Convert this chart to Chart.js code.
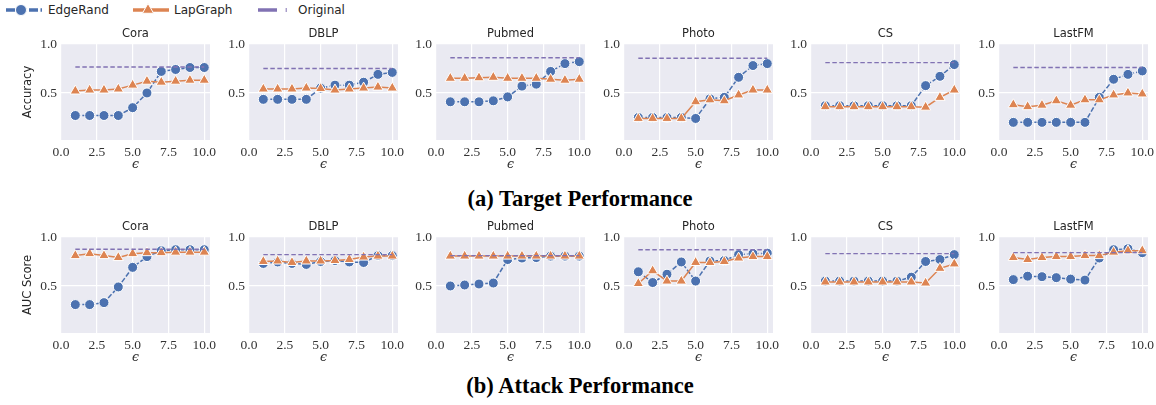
<!DOCTYPE html>
<html>
<head>
<meta charset="UTF-8" />
<title>Target and Attack Performance</title>
<script src="https://cdn.jsdelivr.net/npm/chart.js"></script>
<style>
  body { margin: 0; background: #fff; width: 1156px; height: 405px; position: relative; overflow: hidden; }
  canvas.panel { position: absolute; }
  .caption { position: absolute; left: 4px; width: 1152px; text-align: center; font: bold 22.5px "Liberation Serif", serif; color: #000; line-height: 24px; }
  .legend span { position: absolute; top: 3px; font: 12px "DejaVu Sans", sans-serif; color: #262626; line-height: 14px; }
  .legend svg { position: absolute; top: 0; }
</style>
</head>
<body>
  <!-- Legend -->
  <div class="legend">
    <svg style="left:4px" width="40" height="20">
      <line x1="2" y1="10" x2="38" y2="10" stroke="#4C72B0" stroke-width="3.5" stroke-dasharray="9,2.5" />
      <circle cx="17" cy="10" r="5.5" fill="#4C72B0" stroke="#fff" stroke-width="1" />
    </svg>
    <span style="left:48px">EdgeRand</span>
    <svg style="left:131px" width="40" height="20">
      <line x1="2" y1="10" x2="38" y2="10" stroke="#DD8452" stroke-width="3.5" />
      <polygon points="17,3.5 22.6,13.25 11.4,13.25" fill="#DD8452" stroke="#fff" stroke-width="1" />
    </svg>
    <span style="left:174px">LapGraph</span>
    <svg style="left:256px" width="40" height="20">
      <line x1="2" y1="10" x2="21" y2="10" stroke="#8172B3" stroke-width="3.5" />
      <line x1="30.2" y1="8" x2="30.2" y2="12" stroke="#8172B3" stroke-width="1" />
    </svg>
    <span style="left:298px">Original</span>
  </div>

  <div class="caption" style="top:187px">(a) Target Performance</div>
  <div class="caption" style="top:374px">(b) Attack Performance</div>

  <script>
    // --- Data ---
    const datasetNames = ['Cora', 'DBLP', 'Pubmed', 'Photo', 'CS', 'LastFM'];
    const epsilons = [1, 2, 3, 4, 5, 6, 7, 8, 9, 10];
    const xTicks = [0, 2.5, 5, 7.5, 10];
    const yTicks = [0.5, 1.0];

    // (a) Target performance (accuracy)
    const targetEdgeRand = [
      [0.27, 0.27, 0.27, 0.27, 0.35, 0.50, 0.72, 0.74, 0.76, 0.76],
      [0.435, 0.435, 0.435, 0.435, 0.55, 0.58, 0.58, 0.61, 0.69, 0.71],
      [0.41, 0.41, 0.41, 0.42, 0.46, 0.57, 0.59, 0.72, 0.80, 0.82],
      [0.25, 0.25, 0.25, 0.25, 0.24, 0.44, 0.455, 0.66, 0.78, 0.80],
      [0.37, 0.37, 0.37, 0.37, 0.37, 0.37, 0.37, 0.575, 0.67, 0.79],
      [0.20, 0.20, 0.20, 0.20, 0.20, 0.20, 0.455, 0.64, 0.69, 0.725]
    ];
    const targetLapGraph = [
      [0.52, 0.53, 0.53, 0.54, 0.58, 0.62, 0.61, 0.62, 0.63, 0.63],
      [0.54, 0.54, 0.54, 0.55, 0.545, 0.53, 0.54, 0.55, 0.56, 0.55],
      [0.65, 0.65, 0.655, 0.66, 0.65, 0.65, 0.65, 0.64, 0.63, 0.64],
      [0.24, 0.24, 0.24, 0.24, 0.41, 0.43, 0.42, 0.48, 0.53, 0.53],
      [0.36, 0.36, 0.36, 0.36, 0.36, 0.36, 0.36, 0.355, 0.455, 0.53],
      [0.38, 0.36, 0.375, 0.42, 0.375, 0.43, 0.43, 0.48, 0.50, 0.49]
    ];
    const targetOriginal = [0.765, 0.75, 0.86, 0.855, 0.81, 0.76];

    // (b) Attack performance (AUC score)
    const attackEdgeRand = [
      [0.31, 0.31, 0.33, 0.49, 0.69, 0.80, 0.86, 0.87, 0.87, 0.87],
      [0.73, 0.745, 0.73, 0.72, 0.75, 0.76, 0.745, 0.74, 0.81, 0.81],
      [0.50, 0.51, 0.52, 0.53, 0.77, 0.785, 0.79, 0.805, 0.805, 0.805],
      [0.645, 0.535, 0.62, 0.745, 0.55, 0.755, 0.76, 0.82, 0.83, 0.835],
      [0.55, 0.55, 0.55, 0.55, 0.55, 0.55, 0.59, 0.75, 0.77, 0.82],
      [0.565, 0.60, 0.595, 0.585, 0.57, 0.56, 0.785, 0.87, 0.88, 0.84]
    ];
    const attackLapGraph = [
      [0.81, 0.83, 0.81, 0.79, 0.83, 0.84, 0.84, 0.845, 0.845, 0.845],
      [0.75, 0.755, 0.74, 0.755, 0.755, 0.76, 0.77, 0.795, 0.805, 0.805],
      [0.805, 0.805, 0.805, 0.805, 0.805, 0.805, 0.805, 0.805, 0.805, 0.805],
      [0.525, 0.655, 0.55, 0.55, 0.74, 0.74, 0.75, 0.785, 0.80, 0.80],
      [0.54, 0.54, 0.54, 0.54, 0.54, 0.54, 0.54, 0.53, 0.68, 0.725],
      [0.79, 0.77, 0.79, 0.80, 0.80, 0.81, 0.81, 0.845, 0.86, 0.86]
    ];
    const attackOriginal = [0.875, 0.82, 0.81, 0.87, 0.83, 0.84];

    const BLUE = '#4C72B0', ORANGE = '#DD8452', PURPLE = '#8172B3';
    const tickFont = { family: 'Liberation Serif', size: 13.5 };

    // fill the plot area with the seaborn darkgrid background
    const bgPlugin = {
      id: 'bg',
      beforeDraw(chart) {
        const { ctx, chartArea: a } = chart;
        ctx.save();
        ctx.fillStyle = '#EAEAF2';
        ctx.fillRect(a.left, a.top, a.right - a.left, a.bottom - a.top);
        ctx.restore();
      }
    };

    // subplot title centred over the plot area (not the whole canvas)
    const panelTitle = {
      id: 'panelTitle',
      afterDraw(chart, args, opts) {
        const { ctx, chartArea: a } = chart;
        ctx.save();
        ctx.font = '11.5px "DejaVu Sans"';
        ctx.fillStyle = '#262626';
        ctx.textAlign = 'center';
        ctx.textBaseline = 'middle';
        ctx.fillText(opts.text, (a.left + a.right) / 2, a.top - 10);
        ctx.restore();
      }
    };

    const rows = [
      { ylabel: 'Accuracy', plotTop: 44, er: targetEdgeRand, lg: targetLapGraph, og: targetOriginal },
      { ylabel: 'AUC Score', plotTop: 237, er: attackEdgeRand, lg: attackLapGraph, og: attackOriginal }
    ];

    rows.forEach(row => {
      datasetNames.forEach((name, i) => {
        const plotLeft = Math.round(61 + i * 187.5);
        const yW = i === 0 ? 61 : 40;
        const W = yW + 149 + 14;
        const H = 18 + 96 + 34;

        const cv = document.createElement('canvas');
        cv.className = 'panel';
        cv.width = W;
        cv.height = H;
        cv.style.left = (plotLeft - yW) + 'px';
        cv.style.top = (row.plotTop - 18) + 'px';
        document.body.appendChild(cv);

        new Chart(cv.getContext('2d'), {
          type: 'line',
          data: {
            datasets: [
              {
                label: 'Original',
                data: [{ x: epsilons[0], y: row.og[i] }, { x: epsilons[epsilons.length - 1], y: row.og[i] }],
                borderColor: PURPLE, borderWidth: 1.4, borderDash: [4.5, 2.5],
                pointRadius: 0, order: 0
              },
              {
                label: 'LapGraph',
                data: epsilons.map((e, k) => ({ x: e, y: row.lg[i][k] })),
                borderColor: ORANGE, borderWidth: 1.5,
                pointStyle: 'triangle', pointRadius: 6,
                pointBackgroundColor: ORANGE, pointBorderColor: '#fff', pointBorderWidth: 1,
                order: 1
              },
              {
                label: 'EdgeRand',
                data: epsilons.map((e, k) => ({ x: e, y: row.er[i][k] })),
                borderColor: BLUE, borderWidth: 1.5, borderDash: [5, 2],
                pointStyle: 'circle', pointRadius: 5,
                pointBackgroundColor: BLUE, pointBorderColor: '#fff', pointBorderWidth: 1,
                order: 2
              }
            ]
          },
          options: {
            responsive: false,
            animation: false,
            events: [],
            layout: { padding: { left: 0, right: 14, top: 18, bottom: 0 } },
            plugins: {
              legend: { display: false },
              tooltip: { enabled: false },
              title: { display: false },
              panelTitle: { text: name }
            },
            scales: {
              x: {
                type: 'linear', min: 0, max: 10.4,
                afterBuildTicks: s => { s.ticks = xTicks.map(v => ({ value: v })); },
                afterFit: s => { s.height = 34; },
                ticks: { callback: v => Number(v).toFixed(1), font: tickFont, color: '#333', padding: 4, maxRotation: 0, autoSkip: false },
                grid: { color: '#fff', lineWidth: 1.2, drawTicks: false },
                border: { display: false },
                title: {
                  display: true, text: 'ϵ', color: '#333',
                  font: { family: 'DejaVu Serif', style: 'italic', size: 12.5 },
                  padding: { top: 0, bottom: 2 }
                }
              },
              y: {
                type: 'linear', min: 0.02, max: 1.0,
                afterBuildTicks: s => { s.ticks = yTicks.map(v => ({ value: v })); },
                afterFit: s => { s.width = yW; },
                ticks: { callback: v => Number(v).toFixed(1), font: tickFont, color: '#333', padding: 4 },
                grid: { color: '#fff', lineWidth: 1.2, drawTicks: false },
                border: { display: false },
                title: {
                  display: i === 0, text: row.ylabel, color: '#262626',
                  font: { family: 'DejaVu Sans', size: 11.5 },
                  padding: { top: 21, bottom: 0 }
                }
              }
            }
          },
          plugins: [bgPlugin, panelTitle]
        });
      });
    });
  </script>
</body>
</html>
